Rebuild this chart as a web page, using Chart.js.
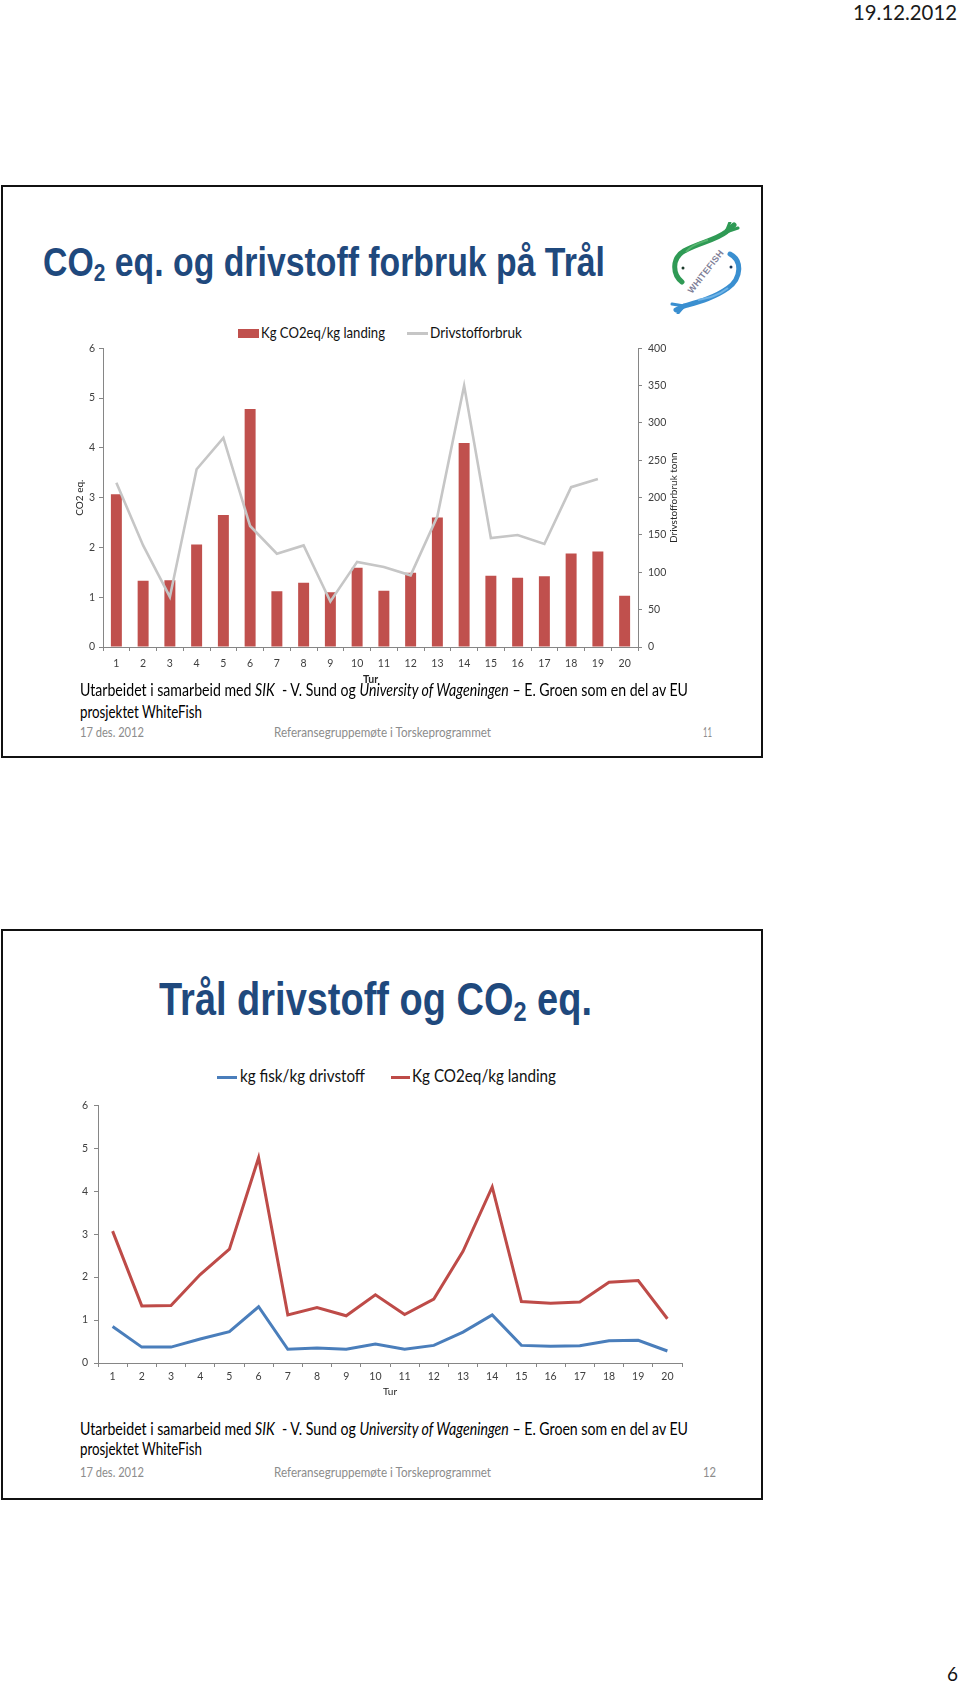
<!DOCTYPE html>
<html>
<head>
<meta charset="utf-8">
<script src="https://cdn.jsdelivr.net/npm/chart.js@4.4.1/dist/chart.umd.min.js"></script>
<style>
  html,body{margin:0;padding:0;background:#fff;}
  body{width:960px;height:1684px;position:relative;overflow:hidden;font-family:Lato,"Open Sans",sans-serif;}
  .slide{position:absolute;left:1px;width:758px;border:2px solid #111;background:#fff;}
  .t{position:absolute;white-space:nowrap;display:inline-block;transform-origin:left center;line-height:1.2;}
  .title{font-family:"Liberation Sans",Arial,sans-serif;font-weight:bold;color:#1F497D;line-height:1;}
  .title sub{font-size:0.62em;vertical-align:-0.22em;line-height:0;}
  .foot{color:#8c8c8c;}
  .sw{position:absolute;}
  canvas{position:absolute;}
</style>
</head>
<body>
<script>
// ---------- data ----------
const turLabels = ['1','2','3','4','5','6','7','8','9','10','11','12','13','14','15','16','17','18','19','20'];
const co2PerKgLanding = [3.07,1.33,1.34,2.06,2.65,4.78,1.12,1.29,1.10,1.59,1.13,1.49,2.60,4.10,1.43,1.39,1.42,1.88,1.92,1.03];
const fuelTonnes = [220,136,67,238,280,162,125,136,61,114,107,96,175,350,146,150,138,214,225,null];
const fishPerKgFuel = [0.85,0.37,0.37,0.56,0.73,1.31,0.32,0.35,0.32,0.44,0.32,0.41,0.72,1.12,0.41,0.39,0.40,0.52,0.53,0.28];
const co2AxisTicks = [0,1,2,3,4,5,6];
const fuelAxisTicks = [0,50,100,150,200,250,300,350,400];
</script>

<div class="t" style="left:853px;top:-1px;font-size:21px;color:#1a1a1a" data-w="104">19.12.2012</div>

<!-- Slide 1 -->
<div class="slide" style="top:185px;height:569px;"></div>
<div class="t title" style="left:43px;top:242px;font-size:40px" data-w="562">CO<sub>2</sub> eq. og drivstoff forbruk på Trål</div>

<svg style="position:absolute;left:668px;top:222px" width="80" height="92" viewBox="0 0 80 92">
  <path d="M14 60 C 4 52, 4 36, 16 29 C 30 21, 48 18, 58 10 L 66 3" stroke="#2f9a55" stroke-width="5" fill="none" stroke-linecap="round"/>
  <path d="M58 10 L 70 6 M 58 10 L 62 0" stroke="#2f9a55" stroke-width="3" fill="none" stroke-linecap="round"/>
  <path d="M18 30 C 24 22, 34 20, 40 18" stroke="#56b56f" stroke-width="2" fill="none"/>
  <circle cx="15" cy="46" r="1.5" fill="#1b3a2a"/>
  <path d="M62 32 C 74 38, 74 56, 60 66 C 46 76, 30 80, 16 84 L 8 88" stroke="#3a8fd0" stroke-width="5" fill="none" stroke-linecap="round"/>
  <path d="M16 84 L 4 82 M 16 84 L 10 91" stroke="#3a8fd0" stroke-width="3" fill="none" stroke-linecap="round"/>
  <path d="M60 66 C 50 74, 40 76, 30 78" stroke="#6fb3e6" stroke-width="2" fill="none"/>
  <circle cx="63" cy="45" r="1.5" fill="#173556"/>
  <text x="0" y="0" transform="translate(24 72) rotate(-52)" font-family="Liberation Sans, Arial" font-weight="bold" font-size="9" fill="#7f7f98" letter-spacing="0.3">WHITEFISH</text>
</svg>

<div class="sw" style="left:238px;top:329px;width:21px;height:9px;background:#c0504d"></div>
<div class="t" style="left:261px;top:323px;font-size:15px;color:#111" data-w="124">Kg CO2eq/kg landing</div>
<div class="sw" style="left:407px;top:332px;width:21px;height:3px;background:#c6c6c6"></div>
<div class="t" style="left:430px;top:323px;font-size:15px;color:#111" data-w="92">Drivstofforbruk</div>

<canvas id="c1" width="700" height="364" style="left:30px;top:336px;width:700px;height:364px"></canvas>

<div class="t" style="left:80px;top:681px;font-size:16.5px;color:#000" data-w="608">Utarbeidet i samarbeid med <i>SIK</i>&nbsp; - V. Sund og <i>University of Wageningen</i> – E. Groen som en del av EU</div>
<div class="t" style="left:80px;top:703px;font-size:16.5px;color:#000" data-w="122">prosjektet WhiteFish</div>
<div class="t foot" style="left:80px;top:725px;font-size:12.5px" data-w="64">17 des. 2012</div>
<div class="t foot" style="left:274px;top:725px;font-size:12.5px" data-w="217">Referansegruppemøte i Torskeprogrammet</div>
<div class="t foot" style="left:703px;top:725px;font-size:12.5px" data-w="9">11</div>

<!-- Slide 2 -->
<div class="slide" style="top:929px;height:567px;"></div>
<div class="t title" style="left:159px;top:976px;font-size:46px" data-w="433">Trål drivstoff og CO<sub>2</sub> eq.</div>

<div class="sw" style="left:217px;top:1075.5px;width:20px;height:3px;background:#4a7ebb"></div>
<div class="t" style="left:240px;top:1066px;font-size:17px;color:#111" data-w="125">kg fisk/kg drivstoff</div>
<div class="sw" style="left:391px;top:1075.5px;width:19px;height:3px;background:#be4b48"></div>
<div class="t" style="left:412px;top:1066px;font-size:17px;color:#111" data-w="144">Kg CO2eq/kg landing</div>

<canvas id="c2" width="700" height="307" style="left:30px;top:1093px;width:700px;height:307px"></canvas>

<div class="t" style="left:80px;top:1420px;font-size:16.5px;color:#000" data-w="608">Utarbeidet i samarbeid med <i>SIK</i>&nbsp; - V. Sund og <i>University of Wageningen</i> – E. Groen som en del av EU</div>
<div class="t" style="left:80px;top:1440px;font-size:16.5px;color:#000" data-w="122">prosjektet WhiteFish</div>
<div class="t foot" style="left:80px;top:1465px;font-size:12.5px" data-w="64">17 des. 2012</div>
<div class="t foot" style="left:274px;top:1465px;font-size:12.5px" data-w="217">Referansegruppemøte i Torskeprogrammet</div>
<div class="t foot" style="left:703px;top:1465px;font-size:12.5px" data-w="13">12</div>

<div class="t" style="left:947px;top:1663px;font-size:19px;color:#111" data-w="11">6</div>

<script>
function fitAll(){
  document.querySelectorAll('[data-w]').forEach(el=>{
    el.style.transform='none';
    const w = el.getBoundingClientRect().width;
    const t = +el.dataset.w;
    if (w>0) el.style.transform='scaleX('+(t/w)+')';
  });
}
fitAll();
if (document.fonts && document.fonts.ready) document.fonts.ready.then(fitAll);

const axisColor = '#868686';
const tickColor = '#404040';
const tickFont = {family:'Lato', size:10.5};

const rightTitle = {
  id:'rightTitle',
  afterDraw(chart){
    const s = chart.scales.y1; if(!s) return;
    const ctx = chart.ctx;
    ctx.save();
    ctx.translate(s.right - 56, (chart.chartArea.top + chart.chartArea.bottom)/2);
    ctx.rotate(-Math.PI/2);
    ctx.fillStyle = '#262626';
    ctx.font = '10px Lato';
    ctx.textAlign = 'center';
    ctx.textBaseline = 'middle';
    ctx.fillText('Drivstofforbruk tonn', 0, 0);
    ctx.restore();
  }
};

new Chart(document.getElementById('c1'), {
  type:'bar',
  data:{
    labels: turLabels,
    datasets:[
      {type:'line', label:'Drivstofforbruk', data:fuelTonnes, yAxisID:'y1', borderColor:'#c6c6c6', borderWidth:2.6, pointRadius:0, tension:0, spanGaps:false, order:0},
      {type:'bar', label:'Kg CO2eq/kg landing', data:co2PerKgLanding, yAxisID:'y', backgroundColor:'#c0504d', barPercentage:0.41, categoryPercentage:1, order:1}
    ]
  },
  options:{
    responsive:false, animation:false,
    layout:{padding:{top:10,left:0,right:0,bottom:0}},
    plugins:{legend:{display:false}, tooltip:{enabled:false}},
    scales:{
      x:{
        offset:true,
        grid:{drawOnChartArea:false, drawTicks:true, tickLength:4, color:axisColor, offset:true},
        border:{color:axisColor},
        ticks:{color:tickColor, font:tickFont, padding:6, maxRotation:0, autoSkip:false},
        title:{display:true, text:'Tur', color:'#262626', font:{family:'Lato', size:10.5, weight:'bold'}, padding:{top:0,bottom:14}},
        afterFit(s){ s.height = 53; }
      },
      y:{
        position:'left', min:co2AxisTicks[0], max:co2AxisTicks[co2AxisTicks.length-1],
        ticks:{stepSize:co2AxisTicks[1]-co2AxisTicks[0], color:tickColor, font:tickFont, padding:4},
        grid:{drawOnChartArea:false, tickLength:4, color:axisColor},
        border:{color:axisColor},
        title:{display:true, text:'CO2 eq.', color:'#262626', font:{family:'Lato', size:10}, padding:{top:44,bottom:0}},
        afterFit(s){ s.width = 73; }
      },
      y1:{
        position:'right', min:fuelAxisTicks[0], max:fuelAxisTicks[fuelAxisTicks.length-1],
        ticks:{stepSize:fuelAxisTicks[1]-fuelAxisTicks[0], color:tickColor, font:tickFont, padding:6},
        grid:{drawOnChartArea:false, tickLength:4, color:axisColor},
        border:{color:axisColor},
        afterFit(s){ s.width = 92; }
      }
    }
  },
  plugins:[rightTitle]
});

new Chart(document.getElementById('c2'), {
  type:'line',
  data:{
    labels: turLabels,
    datasets:[
      {label:'kg fisk/kg drivstoff', data:fishPerKgFuel, borderColor:'#4a7ebb', borderWidth:3, pointRadius:0, tension:0},
      {label:'Kg CO2eq/kg landing', data:co2PerKgLanding, borderColor:'#be4b48', borderWidth:3, pointRadius:0, tension:0}
    ]
  },
  options:{
    responsive:false, animation:false,
    layout:{padding:{top:10,left:0,right:48,bottom:0}},
    plugins:{legend:{display:false}, tooltip:{enabled:false}},
    scales:{
      x:{
        offset:true,
        grid:{drawOnChartArea:false, drawTicks:true, tickLength:4, color:axisColor, offset:true},
        border:{color:axisColor},
        ticks:{color:tickColor, font:tickFont, padding:3, maxRotation:0, autoSkip:false},
        title:{display:true, text:'Tur', color:'#262626', font:{family:'Lato', size:10}, padding:{top:0,bottom:2}},
        afterFit(s){ s.height = 37; }
      },
      y:{
        min:co2AxisTicks[0], max:co2AxisTicks[co2AxisTicks.length-1],
        ticks:{stepSize:co2AxisTicks[1]-co2AxisTicks[0], color:tickColor, font:tickFont, padding:6},
        grid:{drawOnChartArea:false, tickLength:4, color:axisColor},
        border:{color:axisColor},
        afterFit(s){ s.width = 68; }
      }
    }
  }
});
</script>
</body>
</html>
